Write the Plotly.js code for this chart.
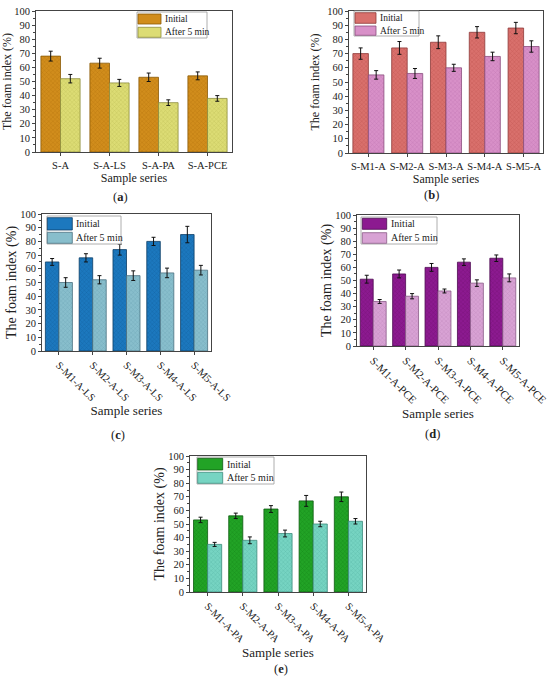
<!DOCTYPE html>
<html>
<head>
<meta charset="utf-8">
<script src="https://cdn.plot.ly/plotly-3.0.1.min.js"></script>
<style>html,body{margin:0;padding:0;background:#fff;}#chart{width:550px;height:686px;}</style>
</head>
<body>
<div id="chart"></div>
<script>
// ---------------- DATA ----------------
const yTickVals = [0,10,20,30,40,50,60,70,80,90,100];
const seriesNames = ['Initial', 'After 5 min'];
const panelLabels = ['a','b','c','d','e'];
const xTitle = 'Sample series';
const yTitle = 'The foam index (%)';

const catA = ['S-A','S-A-LS','S-A-PA','S-A-PCE'];
const initA = [68,63,53,54];
const initAErr = [3.5,3.5,3,2.8];
const afterA = [52,49,35,38];
const afterAErr = [3,2.5,2,2];

const catB = ['S-M1-A','S-M2-A','S-M3-A','S-M4-A','S-M5-A'];
const initB = [70,74,78,85,88];
const initBErr = [4,4.5,4.5,4,4];
const afterB = [55,56,60,68,75];
const afterBErr = [3,3.5,2.5,3,4];

const catC = ['S-M1-A-LS','S-M2-A-LS','S-M3-A-LS','S-M4-A-LS','S-M5-A-LS'];
const initC = [65,68,74,80,85];
const initCErr = [2.5,3,4,3,6];
const afterC = [50,52,55,57,59];
const afterCErr = [3.5,3,3.5,3.5,3.5];

const catD = ['S-M1-A-PCE','S-M2-A-PCE','S-M3-A-PCE','S-M4-A-PCE','S-M5-A-PCE'];
const initD = [51,55,60,64,67];
const initDErr = [3,3,3,2.5,2.5];
const afterD = [34,38,42,48,52];
const afterDErr = [1.5,2,1.5,2.5,3];

const catE = ['S-M1-A-PA','S-M2-A-PA','S-M3-A-PA','S-M4-A-PA','S-M5-A-PA'];
const initE = [53,56,61,67,70];
const initEErr = [2,2,2.5,4,3.5];
const afterE = [35,38,43,50,52];
const afterEErr = [1.5,2.5,2.5,2,2];

// ---------------- STYLE / LAYOUT ----------------
const W = 550, H = 686;
const FONT = '"Liberation Serif", "DejaVu Serif", serif';
const px = x => x / W;
const py = y => 1 - y / H;

const panels = [
  {cats: catA, init: initA, initErr: initAErr, after: afterA, afterErr: afterAErr,
   box: [36,11,232,152], angle: 0, tf: 10.5, xtf: 12, ytf: 12, xso: 3, yso: 4,
   colors: {i: '#D18D1C', ie: '#8A5A08', ip: '#B8760E', a: '#DCDC74', ae: '#8E8E3E', ap: '#C4C45C'},
   leg: {box: [137,12,207,38], sw: [138,161], rows: [[14,24],[27.3,37.3]], tx: 163, fs: 9.5},
   lab: [120,197]},
  {cats: catB, init: initB, initErr: initBErr, after: afterB, afterErr: afterBErr,
   box: [349,11,543,153], angle: 0, tf: 10.5, xtf: 12, ytf: 12, xso: 3, yso: 4,
   colors: {i: '#D9706C', ie: '#8E3A38', ip: '#C45A56', a: '#D890C8', ae: '#8A4E7E', ap: '#C47AB4'},
   leg: {box: [354,11,419,36], sw: [355,376], rows: [[12.7,23.3],[26,35.3]], tx: 378, fs: 9.5},
   lab: [431,195]},
  {cats: catC, init: initC, initErr: initCErr, after: afterC, afterErr: afterCErr,
   box: [42,214,211,351], angle: 45, tf: 10.5, xtf: 13, ytf: 14, xso: 1, yso: 0,
   colors: {i: '#1C78BE', ie: '#0C3E66', ip: '#1464A4', a: '#88BECC', ae: '#4A7080', ap: '#70A8B8'},
   leg: {box: [47,216,121,244], sw: [47.3,72.3], rows: [[217.7,230],[232.3,243.3]], tx: 74, fs: 10},
   lab: [118,435]},
  {cats: catD, init: initD, initErr: initDErr, after: afterD, afterErr: afterDErr,
   box: [357,215,519,346], angle: 45, tf: 11, xtf: 13, ytf: 14, xso: 1, yso: 0,
   colors: {i: '#8C1A90', ie: '#4C0A50', ip: '#761078', a: '#D8A2D4', ae: '#8A5A88', ap: '#C48AC0'},
   leg: {box: [361,217,437,244], sw: [362.3,386.7], rows: [[218.3,229.3],[232.7,243.3]], tx: 389, fs: 10},
   lab: [432,434]},
  {cats: catE, init: initE, initErr: initEErr, after: afterE, afterErr: afterEErr,
   box: [190,456,366,592], angle: 45, tf: 10.5, xtf: 13, ytf: 14, xso: 0, yso: 0,
   colors: {i: '#22A326', ie: '#0E5A10', ip: '#168A1A', a: '#76D4C2', ae: '#3C8A7C', ap: '#5EBCAA'},
   leg: {box: [197,457,274,484], sw: [197.7,222.7], rows: [[458.3,470],[472.3,483.3]], tx: 225, fs: 10},
   lab: [281,669]}
];

const data = [];
const layout = {
  width: W, height: H,
  margin: {l: 0, r: 0, t: 0, b: 0},
  paper_bgcolor: '#fff', plot_bgcolor: '#fff',
  showlegend: false,
  bargap: 0.2, bargroupgap: 0,
  barmode: 'group',
  font: {family: FONT, color: '#222', size: 11},
  shapes: [], annotations: []
};

panels.forEach((p, k) => {
  const n = k === 0 ? '' : String(k + 1);
  const xa = 'x' + n, ya = 'y' + n;
  const c = p.colors;
  data.push({
    type: 'bar', name: seriesNames[0], x: p.cats, y: p.init, xaxis: xa, yaxis: ya,
    marker: {color: c.i, line: {color: c.ie, width: 0.8},
             pattern: {shape: 'x', size: 3, solidity: 0.25, fgcolor: c.ip, bgcolor: c.i}},
    error_y: {type: 'data', array: p.initErr, visible: true, color: '#111', thickness: 1, width: 2}
  });
  data.push({
    type: 'bar', name: seriesNames[1], x: p.cats, y: p.after, xaxis: xa, yaxis: ya,
    marker: {color: c.a, line: {color: c.ae, width: 0.8},
             pattern: {shape: 'x', size: 3, solidity: 0.25, fgcolor: c.ap, bgcolor: c.a}},
    error_y: {type: 'data', array: p.afterErr, visible: true, color: '#111', thickness: 1, width: 2}
  });
  const [x0, y0, x1, y1] = p.box;
  layout['xaxis' + n] = {
    domain: [px(x0), px(x1)], anchor: ya, type: 'category',
    range: [-0.5, p.cats.length - 0.5],
    showline: true, linecolor: '#444', linewidth: 1, mirror: true,
    ticks: 'outside', ticklen: 3, tickcolor: '#444',
    tickangle: p.angle, tickfont: {family: FONT, size: p.tf, color: '#222'},
    showgrid: false, zeroline: false, fixedrange: true,
    title: {text: xTitle, font: {family: FONT, size: p.xtf, color: '#222'}, standoff: p.xso}
  };
  layout['yaxis' + n] = {
    domain: [py(y1), py(y0)], anchor: xa,
    range: [0, 100], tickvals: yTickVals,
    showline: true, linecolor: '#444', linewidth: 1, mirror: true,
    ticks: 'outside', ticklen: 3, tickcolor: '#444',
    minor: {dtick: 5, ticks: 'outside', ticklen: 2, tickcolor: '#444'},
    tickfont: {family: FONT, size: 10.5, color: '#222'},
    showgrid: false, zeroline: false, fixedrange: true,
    title: {text: yTitle, font: {family: FONT, size: p.ytf, color: '#222'}, standoff: p.yso}
  };
  // legend (drawn manually)
  const L = p.leg;
  layout.shapes.push({type: 'rect', xref: 'paper', yref: 'paper',
    x0: px(L.box[0]), x1: px(L.box[2]), y0: py(L.box[3]), y1: py(L.box[1]),
    line: {color: '#999', width: 0.8}, fillcolor: '#fff', layer: 'above'});
  [[c.i, c.ie], [c.a, c.ae]].forEach((cc, r) => {
    const row = L.rows[r];
    layout.shapes.push({type: 'rect', xref: 'paper', yref: 'paper',
      x0: px(L.sw[0]), x1: px(L.sw[1]), y0: py(row[1]), y1: py(row[0]),
      line: {color: cc[1], width: 0.8}, fillcolor: cc[0], layer: 'above'});
    layout.annotations.push({xref: 'paper', yref: 'paper', x: px(L.tx), y: py((row[0] + row[1]) / 2),
      text: seriesNames[r], showarrow: false, xanchor: 'left', yanchor: 'middle',
      font: {family: FONT, size: L.fs, color: '#222'}});
  });
  layout.annotations.push({xref: 'paper', yref: 'paper', x: px(p.lab[0]), y: py(p.lab[1]),
    text: '(<b>' + panelLabels[k] + '</b>)', showarrow: false, xanchor: 'center', yanchor: 'middle',
    font: {family: FONT, size: 12.5, color: '#222'}});
});

Plotly.newPlot('chart', data, layout, {displayModeBar: false, staticPlot: true});
</script>
</body>
</html>
